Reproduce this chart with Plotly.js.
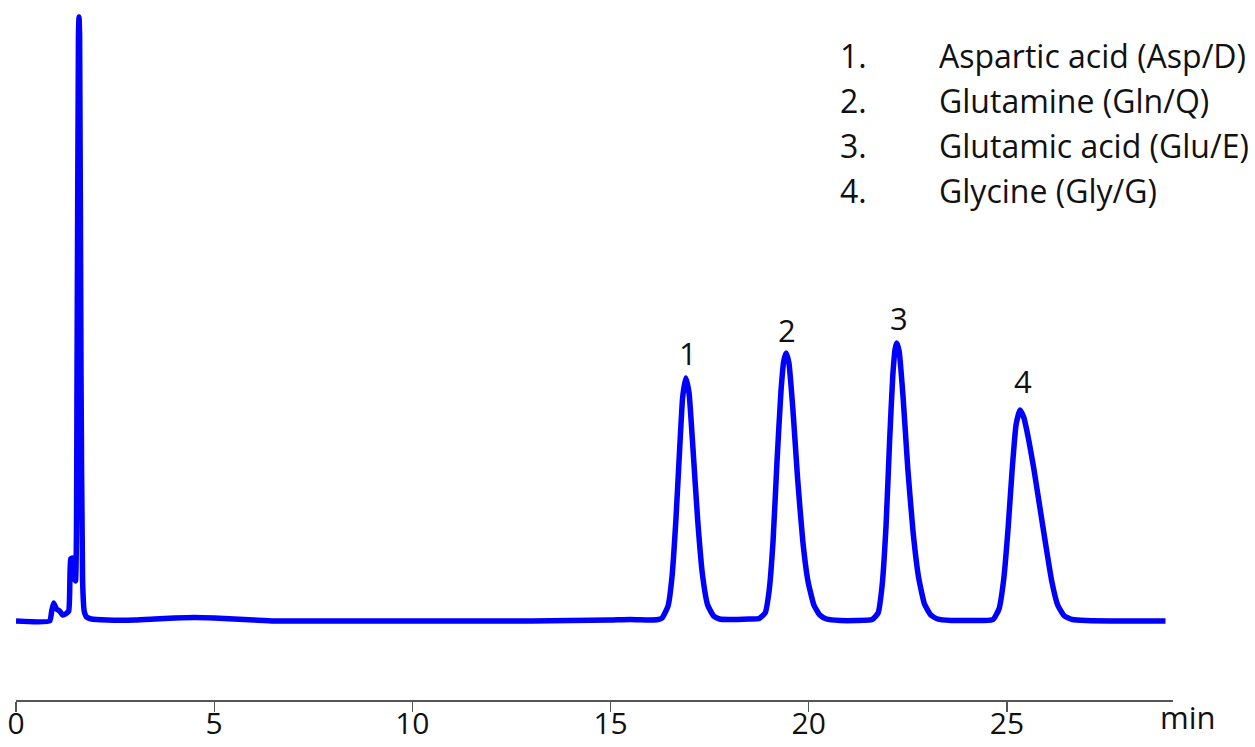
<!DOCTYPE html>
<html>
<head>
<meta charset="utf-8">
<script src="https://cdn.plot.ly/plotly-3.0.1.min.js"></script>
<style>
  html, body { margin: 0; padding: 0; background: #ffffff; }
  #chart { width: 1255px; height: 747px; }
</style>
</head>
<body>
<div id="chart"></div>
<script>
// ---- Data (time in min, signal in arbitrary units) ----
const earlyTime   = [0.00, 0.85, 0.90, 0.95, 1.02, 1.10, 1.18, 1.25, 1.33, 1.38, 1.42, 1.46, 1.50, 1.54, 1.575, 1.59, 1.605, 1.64, 1.68, 1.72, 1.78, 1.90];
const earlySignal = [0,    0,    10,   18,   12,   10,   6,    7,    10,   62,   63,   45,   40,   250,  585,   604,  585,   250,  40,   10,   4,    2];

const baseTime1   = [2.3, 3.0, 3.5, 4.0, 4.5, 5.0, 5.5, 6.0, 6.5, 7.0, 10.0, 13.0, 14.0, 15.0, 15.5, 16.0];
const baseSignal1 = [1,   1,   2,   3,   3.5, 3,   2,   1,   0,   0,   0,    0,    0.5,  1,    1.5,  1];

const peak1Time   = [16.20, 16.30, 16.45, 16.55, 16.65, 16.75, 16.82, 16.90, 16.98, 17.08, 17.20, 17.32, 17.45, 17.60, 17.75];
const peak1Signal = [1.5,   3,     15,    44,    102,   177,   224,   243,   228,   172,   100,   46,    16,    5,     2];

const baseTime2   = [18.0, 18.5];
const baseSignal2 = [1.5,  2];

const peak2Time   = [18.75, 18.90, 19.00, 19.10, 19.20, 19.30, 19.37, 19.43, 19.50, 19.60, 19.72, 19.85, 19.98, 20.13, 20.28, 20.45];
const peak2Signal = [2.5,   8,     30,    80,    160,   230,   260,   268,   258,   212,   142,   80,    40,    16,    6,     2];

const baseTime3   = [20.8, 21.2];
const baseSignal3 = [0.5,  0.5];

const peak3Time   = [21.60, 21.75, 21.85, 21.95, 22.04, 22.12, 22.18, 22.22, 22.28, 22.38, 22.50, 22.63, 22.77, 22.92, 23.08, 23.25];
const peak3Signal = [1.5,   8,     35,    95,    180,   245,   272,   278,   270,   224,   152,   90,    44,    17,    6,     2];

const baseTime4   = [23.6, 24.0, 24.4];
const baseSignal4 = [0.5,  0.5,  0.5];

const peak4Time   = [24.65, 24.80, 24.92, 25.03, 25.13, 25.23, 25.33, 25.43, 25.55, 25.68, 25.83, 25.98, 26.13, 26.28, 26.45, 26.65];
const peak4Signal = [1.5,   12,    42,    93,    150,   196,   211,   203,   181,   152,   114,   76,    40,    16,    5,     1.5];

const tailTime    = [27.0, 28.0, 29.0];
const tailSignal  = [0.5,  0,    0];

const tickValues  = [0, 5, 10, 15, 20, 25];
const tickLabels  = ['0', '5', '10', '15', '20', '25'];
const axisUnit    = 'min';

const peakLabels  = ['1', '2', '3', '4'];
const peakLabelTime   = [16.95, 19.45, 22.28, 25.40];
const peakLabelSignal = [268, 291, 303, 240];

const legendNumbers = ['1.', '2.', '3.', '4.'];
const compoundNames = ['Aspartic acid (Asp/D)', 'Glutamine (Gln/Q)', 'Glutamic acid (Glu/E)', 'Glycine (Gly/G)'];

// ---- Build trace ----
const timeAll = [].concat(earlyTime, baseTime1, peak1Time, baseTime2, peak2Time, baseTime3, peak3Time, baseTime4, peak4Time, tailTime);
const signalAll = [].concat(earlySignal, baseSignal1, peak1Signal, baseSignal2, peak2Signal, baseSignal3, peak3Signal, baseSignal4, peak4Signal, tailSignal);

const FONT = 'Open Sans, sans-serif';
const TXT = '#111111';

const trace = {
  x: timeAll,
  y: signalAll,
  type: 'scatter',
  mode: 'lines',
  line: { color: '#0000ff', width: 5.5, shape: 'spline', smoothing: 0.45 },
  hoverinfo: 'x+y',
  showlegend: false
};

const annotations = [];
peakLabels.forEach((lab, i) => {
  annotations.push({
    x: peakLabelTime[i], y: peakLabelSignal[i], xref: 'x', yref: 'y',
    text: lab, showarrow: false,
    font: { family: FONT, size: 31, color: TXT },
    xanchor: 'center', yanchor: 'middle'
  });
});

const legendRowY = [566, 521, 476, 431]; // signal-units positions of legend rows
legendNumbers.forEach((num, i) => {
  annotations.push({
    x: 20.74, y: legendRowY[i], xref: 'x', yref: 'y',
    text: num, showarrow: false,
    font: { family: FONT, size: 32, color: TXT },
    xanchor: 'left', yanchor: 'middle'
  });
  annotations.push({
    x: 23.23, y: legendRowY[i], xref: 'x', yref: 'y',
    text: compoundNames[i], showarrow: false,
    font: { family: FONT, size: 32, color: TXT },
    xanchor: 'left', yanchor: 'middle'
  });
});

annotations.push({
  x: 1.0 + (1188 - 1173) / 1157, y: 0, xref: 'paper', yref: 'paper',
  text: axisUnit, showarrow: false,
  font: { family: FONT, size: 31, color: TXT },
  xanchor: 'center', yanchor: 'top', yshift: 6
});

const layout = {
  width: 1255,
  height: 747,
  margin: { l: 16, r: 82, t: 10, b: 47, pad: 0 },
  paper_bgcolor: '#ffffff',
  plot_bgcolor: '#ffffff',
  showlegend: false,
  xaxis: {
    range: [0, 29.19],
    showgrid: false,
    zeroline: false,
    showline: true,
    linecolor: '#555555',
    linewidth: 1.5,
    ticks: 'outside',
    ticklen: 10,
    tickwidth: 1.2,
    tickcolor: '#555555',
    tickvals: tickValues,
    ticktext: tickLabels,
    tickfont: { family: FONT, size: 30, color: TXT },
    ticklabelstandoff: -14
  },
  yaxis: {
    range: [-79, 611],
    visible: false,
    showgrid: false,
    zeroline: false,
    fixedrange: true
  },
  annotations: annotations
};

Plotly.newPlot('chart', [trace], layout, { displayModeBar: false, staticPlot: true });
</script>
</body>
</html>
